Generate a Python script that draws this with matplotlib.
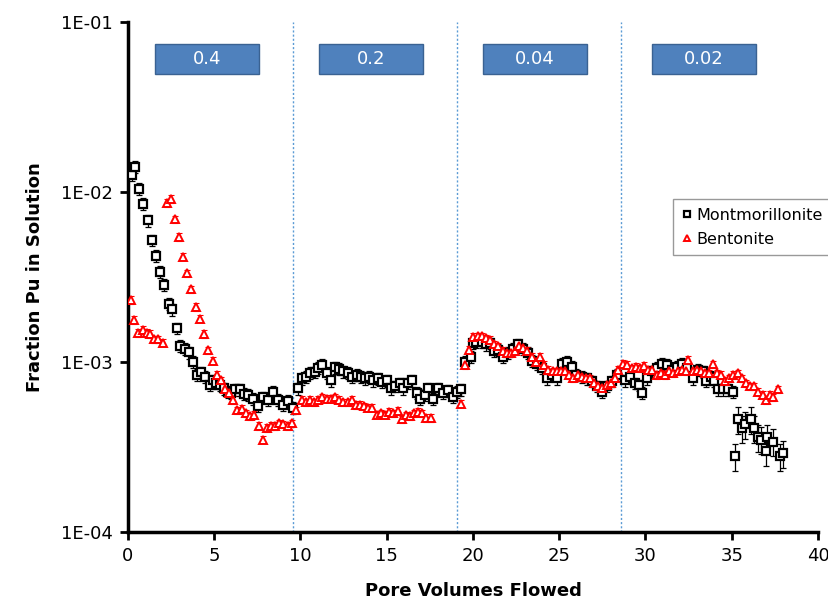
import numpy as np
import matplotlib
matplotlib.use("Agg")
import matplotlib.pyplot as plt
from matplotlib.patches import Rectangle

# Montmorillonite, one list per flow section
mont_x1 = [0.21, 0.41, 0.66, 0.89, 1.16, 1.39, 1.62, 1.87, 2.1, 2.36, 2.55, 2.82, 3.03, 3.3, 3.54, 3.79,
           4.02, 4.23, 4.46, 4.75, 4.95, 5.1, 5.33, 5.55, 5.8, 6.0, 6.2, 6.5, 6.7, 6.96, 7.26, 7.55, 7.84,
           8.1, 8.42, 8.7, 9.0, 9.28, 9.55]
mont_y1 = [1.26e-2, 1.40e-2, 1.04e-2, 8.5e-3, 6.8e-3, 5.2e-3, 4.2e-3, 3.4e-3, 2.85e-3, 2.19e-3, 2.04e-3,
           1.58e-3, 1.25e-3, 1.2e-3, 1.14e-3, 1.0e-3, 8.4e-4, 8.7e-4, 8.2e-4, 7.3e-4, 7.8e-4, 7.5e-4,
           7.3e-4, 7.0e-4, 6.7e-4, 6.6e-4, 6.9e-4, 6.9e-4, 6.5e-4, 6.4e-4, 6.1e-4, 5.5e-4, 6.2e-4, 6.0e-4,
           6.7e-4, 6.0e-4, 5.6e-4, 5.9e-4, 5.4e-4]
mont_x2 = [9.84, 10.07, 10.3, 10.55, 10.84, 11.03, 11.26, 11.52, 11.75, 12.0, 12.23, 12.48, 12.77, 13.0,
           13.26, 13.5, 13.74, 13.99, 14.2, 14.47, 14.7, 15.0, 15.24, 15.48, 15.77, 15.96, 16.25, 16.45,
           16.73, 16.93, 17.2, 17.4, 17.7, 17.99, 18.28, 18.57, 18.82, 19.05, 19.3]
mont_y2 = [7.0e-4, 8.0e-4, 8.2e-4, 8.6e-4, 8.7e-4, 9.2e-4, 9.6e-4, 8.6e-4, 7.8e-4, 9.3e-4, 9.1e-4, 8.8e-4,
           8.6e-4, 8.2e-4, 8.4e-4, 8.2e-4, 8.0e-4, 8.2e-4, 7.8e-4, 8.0e-4, 7.6e-4, 7.8e-4, 7.0e-4, 7.2e-4,
           7.5e-4, 7.0e-4, 7.5e-4, 7.8e-4, 6.6e-4, 6.1e-4, 6.4e-4, 7.0e-4, 6.1e-4, 7.0e-4, 6.6e-4, 6.8e-4,
           6.2e-4, 6.7e-4, 6.9e-4]
mont_x3 = [19.54, 19.86, 20.02, 20.2, 20.5, 20.75, 20.99, 21.2, 21.47, 21.76, 22.05, 22.34, 22.63, 22.92,
           23.2, 23.4, 23.7, 24.0, 24.27, 24.56, 24.85, 25.14, 25.43, 25.72, 26.0, 26.3, 26.6, 26.9, 27.17,
           27.46, 27.75, 28.04, 28.33]
mont_y3 = [1.0e-3, 1.07e-3, 1.29e-3, 1.32e-3, 1.32e-3, 1.27e-3, 1.29e-3, 1.16e-3, 1.18e-3, 1.07e-3, 1.13e-3,
           1.20e-3, 1.27e-3, 1.20e-3, 1.13e-3, 1.02e-3, 9.8e-4, 9.2e-4, 8.0e-4, 8.4e-4, 8.0e-4, 9.8e-4,
           1.0e-3, 9.4e-4, 8.4e-4, 8.2e-4, 8.0e-4, 7.7e-4, 7.2e-4, 6.7e-4, 7.2e-4, 7.7e-4, 8.4e-4]
mont_x4 = [28.8, 29.1, 29.4, 29.6, 29.8, 30.07, 30.36, 30.65, 30.94, 31.23, 31.52, 31.8, 32.1, 32.38, 32.77,
           33.06, 33.35, 33.5, 33.8, 34.0, 34.2, 34.5, 34.8, 35.05]
mont_y4 = [7.8e-4, 8.2e-4, 7.5e-4, 7.3e-4, 6.6e-4, 8.0e-4, 8.8e-4, 9.2e-4, 9.8e-4, 9.6e-4, 9.0e-4, 9.4e-4,
           9.8e-4, 9.2e-4, 8.0e-4, 9.0e-4, 8.8e-4, 7.7e-4, 8.2e-4, 7.7e-4, 6.9e-4, 6.9e-4, 6.9e-4, 6.7e-4]
# scattered tail with larger error bars
mont_x5 = [35.2, 35.35, 35.6, 35.77, 36.1, 36.3, 36.5, 36.7, 37.0, 37.05, 37.4, 37.8, 38.0]
mont_y5 = [2.8e-4, 4.6e-4, 4.1e-4, 4.3e-4, 4.6e-4, 4.1e-4, 3.6e-4, 3.5e-4, 3.0e-4, 3.6e-4, 3.4e-4, 2.8e-4, 2.9e-4]

# Bentonite
bent_x1 = [0.15, 0.37, 0.6, 0.85, 1.08, 1.28, 1.53, 1.76, 2.01, 2.24, 2.47, 2.72, 2.96, 3.19, 3.44, 3.67,
           3.94, 4.17, 4.41, 4.66, 4.91, 5.14, 5.37, 5.62, 5.87, 6.1, 6.34, 6.59, 6.84, 7.07, 7.32, 7.57,
           7.81, 8.04, 8.29, 8.52, 8.77, 9.0, 9.26, 9.53]
bent_y1 = [2.32e-3, 1.77e-3, 1.48e-3, 1.55e-3, 1.49e-3, 1.46e-3, 1.36e-3, 1.36e-3, 1.30e-3, 8.65e-3, 9.1e-3,
           6.9e-3, 5.45e-3, 4.17e-3, 3.33e-3, 2.68e-3, 2.11e-3, 1.80e-3, 1.46e-3, 1.17e-3, 1.02e-3, 8.4e-4,
           7.8e-4, 6.9e-4, 6.6e-4, 6.0e-4, 5.2e-4, 5.3e-4, 5.0e-4, 4.8e-4, 4.9e-4, 4.2e-4, 3.5e-4, 4.1e-4,
           4.2e-4, 4.2e-4, 4.35e-4, 4.3e-4, 4.2e-4, 4.35e-4]
bent_x2 = [9.74, 10.07, 10.3, 10.55, 10.78, 11.03, 11.26, 11.52, 11.75, 12.0, 12.23, 12.48, 12.73, 12.97,
           13.2, 13.45, 13.68, 13.93, 14.16, 14.42, 14.67, 14.9, 15.13, 15.38, 15.63, 15.86, 16.1, 16.35,
           16.6, 16.83, 17.06, 17.3, 17.56]
bent_y2 = [5.2e-4, 6.0e-4, 5.8e-4, 6.0e-4, 5.8e-4, 6.0e-4, 6.2e-4, 6.1e-4, 6.1e-4, 6.2e-4, 6.0e-4, 5.8e-4,
           5.8e-4, 6.0e-4, 5.6e-4, 5.6e-4, 5.5e-4, 5.4e-4, 5.4e-4, 4.9e-4, 5.0e-4, 4.9e-4, 5.1e-4, 5.0e-4,
           5.15e-4, 4.6e-4, 4.85e-4, 4.8e-4, 5.0e-4, 5.1e-4, 5.0e-4, 4.7e-4, 4.7e-4]
bent_x3 = [19.3, 19.54, 19.79, 20.02, 20.27, 20.5, 20.75, 20.99, 21.24, 21.47, 21.72, 21.95, 22.18, 22.43,
           22.69, 22.92, 23.15, 23.4, 23.65, 23.88, 24.1, 24.37, 24.62, 24.85, 25.1, 25.33, 25.58, 25.81,
           26.07, 26.3, 26.55, 26.78, 27.03, 27.26, 27.5, 27.75, 27.98, 28.23, 28.43]
bent_y3 = [5.7e-4, 9.6e-4, 1.18e-3, 1.41e-3, 1.42e-3, 1.42e-3, 1.38e-3, 1.35e-3, 1.27e-3, 1.24e-3, 1.16e-3,
           1.13e-3, 1.13e-3, 1.16e-3, 1.24e-3, 1.21e-3, 1.16e-3, 1.07e-3, 1.0e-3, 1.07e-3, 9.6e-4, 9.0e-4,
           8.8e-4, 8.8e-4, 8.8e-4, 8.8e-4, 8.4e-4, 8.0e-4, 8.4e-4, 8.2e-4, 8.0e-4, 8.0e-4, 7.5e-4, 7.2e-4,
           7.0e-4, 7.3e-4, 7.5e-4, 8.0e-4, 9.0e-4]
bent_x4 = [28.7, 28.95, 29.2, 29.45, 29.68, 29.93, 30.16, 30.4, 30.65, 30.9, 31.13, 31.38, 31.61, 31.87,
           32.1, 32.35, 32.48, 32.73, 32.97, 33.2, 33.45, 33.7, 33.9, 34.13, 34.38, 34.6, 34.85, 35.1,
           35.35, 35.6, 35.83, 36.06, 36.3, 36.54, 36.8, 37.0, 37.2, 37.4, 37.7]
bent_y4 = [9.8e-4, 9.6e-4, 9.2e-4, 9.4e-4, 9.2e-4, 9.5e-4, 9.0e-4, 9.0e-4, 8.4e-4, 8.6e-4, 8.4e-4, 8.8e-4,
           8.6e-4, 8.8e-4, 9.0e-4, 8.8e-4, 1.03e-3, 8.8e-4, 9.0e-4, 8.8e-4, 8.6e-4, 8.6e-4, 9.7e-4, 8.6e-4,
           8.4e-4, 7.7e-4, 8.0e-4, 8.4e-4, 8.6e-4, 8.0e-4, 7.5e-4, 7.2e-4, 7.2e-4, 6.7e-4, 6.4e-4, 6.0e-4,
           6.4e-4, 6.2e-4, 6.9e-4]

# relative error bar sizes
mont_rel_err = 0.08
mont_tail_rel_err = 0.18
bent_rel_err = 0.05

section_breaks = [9.55, 19.07, 28.58]
flow_labels = ["0.4", "0.2", "0.04", "0.02"]
yticks = [1e-4, 1e-3, 1e-2, 1e-1]
ytick_labels = ["1E-04", "1E-03", "1E-02", "1E-01"]
xticks = [0, 5, 10, 15, 20, 25, 30, 35, 40]

mont_x = np.array(mont_x1 + mont_x2 + mont_x3 + mont_x4 + mont_x5)
mont_y = np.array(mont_y1 + mont_y2 + mont_y3 + mont_y4 + mont_y5)
mont_err = mont_y * np.r_[np.full(len(mont_x) - len(mont_x5), mont_rel_err),
                          np.full(len(mont_x5), mont_tail_rel_err)]
bent_x = np.array(bent_x1 + bent_x2 + bent_x3 + bent_x4)
bent_y = np.array(bent_y1 + bent_y2 + bent_y3 + bent_y4)
bent_err = bent_y * bent_rel_err

plt.rcParams['font.family'] = ['DejaVu Sans']

fig = plt.figure(figsize=(8.29, 6.03), dpi=100)
ax = fig.add_axes([0.1544, 0.1177, 0.8323, 0.8458])

for xb in section_breaks:
    ax.axvline(xb, color="#5B9BD5", ls=(0, (1.5, 1.5)), lw=1.0, zorder=1)

ax.errorbar(mont_x, mont_y, yerr=mont_err, fmt="none", ecolor="black", elinewidth=0.9, capsize=2.5,
            capthick=0.9, zorder=2)
ax.errorbar(bent_x, bent_y, yerr=bent_err, fmt="none", ecolor="red", elinewidth=0.8, capsize=2,
            capthick=0.8, zorder=2)
ax.plot(mont_x, mont_y, ls="none", marker="s", ms=5.5, mfc="white", mec="black", mew=1.6,
        label="Montmorillonite", zorder=3)
ax.plot(bent_x, bent_y, ls="none", marker="^", ms=5.5, mfc="white", mec="red", mew=1.4,
        label="Bentonite", zorder=4)

ax.set_yscale("log")
ax.set_ylim(1e-4, 1e-1)
ax.set_xlim(0, 40)
ax.set_yticks(yticks)
ax.set_yticklabels(ytick_labels)
ax.minorticks_off()
ax.set_xticks(xticks)
ax.tick_params(axis="both", direction="out", length=6, width=2, labelsize=13, pad=5)

for s in ["top", "right"]:
    ax.spines[s].set_visible(False)
for s in ["left", "bottom"]:
    ax.spines[s].set_linewidth(2.5)

ax.set_xlabel("Pore Volumes Flowed", fontsize=13, fontweight="bold", labelpad=12)
ax.set_ylabel("Fraction Pu in Solution", fontsize=13, fontweight="bold", labelpad=12)

# flow-rate boxes across the top (axes fraction)
box_left = [0.039, 0.277, 0.514, 0.759]
for xl, lab in zip(box_left, flow_labels):
    ax.add_patch(Rectangle((xl, 0.898), 0.151, 0.059, transform=ax.transAxes, facecolor="#4F81BD",
                           edgecolor="#3A6292", lw=1, zorder=5, clip_on=False))
    ax.text(xl + 0.0755, 0.9275, lab, transform=ax.transAxes, ha="center", va="center", color="white",
            fontsize=13, zorder=6)

leg = ax.legend(loc="upper left", bbox_to_anchor=(0.79, 0.653), fontsize=11.5, frameon=True,
                fancybox=False, handlelength=0.6, handletextpad=0.3, borderpad=0.55, labelspacing=0.55,
                markerscale=0.8, borderaxespad=0)
leg.get_frame().set_edgecolor("#808080")
leg.get_frame().set_linewidth(1.0)

fig.savefig("out.png", dpi=100)
